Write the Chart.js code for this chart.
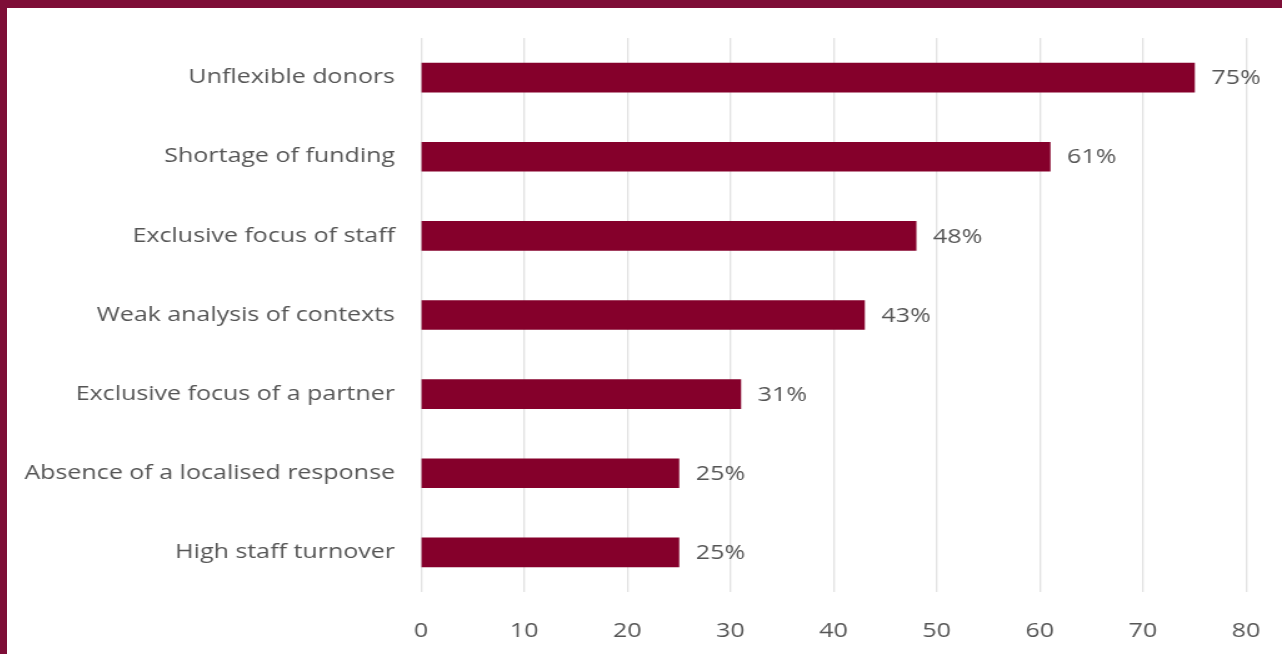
<!DOCTYPE html>
<html>
<head>
<meta charset="utf-8">
<script src="https://cdn.jsdelivr.net/npm/chart.js@4"></script>
<style>
  html, body { margin: 0; padding: 0; background: #fff; }
  #wrap {
    width: 1275px;
    height: 646px;
    border-top: 8px solid #7e0e37;
    border-left: 7px solid #7e0e37;
    background: #fff;
  }
  canvas { display: block; }
</style>
</head>
<body>
<div id="wrap">
  <!-- drawn 1020 wide, shown 1275 wide: the wide, loose lettering of the original -->
  <canvas id="barChart" width="1020" height="646" style="width:1275px;height:646px"></canvas>
</div>
<script>
// Obstacles named by respondents, share in percent
const categories = [
    "Unflexible donors",
    "Shortage of funding",
    "Exclusive focus of staff",
    "Weak analysis of contexts",
    "Exclusive focus of a partner",
    "Absence of a localised response",
    "High staff turnover",
];
const shares = [75, 61, 48, 43, 31, 25, 25];
const xTicks = [0, 10, 20, 30, 40, 50, 60, 70, 80];

const barColor = "#85002b";
const textColor = "#555555";
const fontFamily = "'Open Sans', sans-serif";

// writes "NN%" just right of each bar end
const valueLabels = {
    id: "valueLabels",
    afterDatasetsDraw(chart) {
        const ctx = chart.ctx;
        const meta = chart.getDatasetMeta(0);
        ctx.save();
        ctx.font = "20px " + fontFamily;
        ctx.fillStyle = textColor;
        ctx.textAlign = "left";
        ctx.textBaseline = "middle";
        meta.data.forEach((bar, i) => {
            ctx.fillText(shares[i] + "%", bar.x + 13.6, bar.y + 1);
        });
        ctx.restore();
    },
};

const ctx = document.getElementById("barChart");
const chart = new Chart(ctx, {
    type: "bar",
    data: {
        labels: categories,
        datasets: [
            {
                data: shares,
                backgroundColor: barColor,
                borderWidth: 0,
                barThickness: 29,
            },
        ],
    },
    options: {
        indexAxis: "y",
        responsive: false,
        animation: false,
        layout: {
            padding: { top: 30, right: 28.8, bottom: -16, left: 0 },
        },
        plugins: {
            legend: { display: false },
            tooltip: { enabled: false },
        },
        scales: {
            x: {
                min: 0,
                max: 80,
                afterBuildTicks: (scale) => {
                    scale.ticks = xTicks.map((v) => ({ value: v }));
                },
                afterFit: (scale) => {
                    // the "80" may hang over the right edge, room is left by layout padding
                    scale.paddingLeft = 0;
                    scale.paddingRight = 0;
                },
                grid: { color: "#e2e2e2", lineWidth: 1.3, drawTicks: false },
                border: { display: false },
                ticks: {
                    color: textColor,
                    font: { family: fontFamily, size: 20 },
                    padding: 27,
                    maxRotation: 0,
                },
            },
            y: {
                grid: { display: false, drawTicks: false },
                border: { display: false },
                afterFit: (scale) => {
                    scale.width = 331.2;
                    scale.paddingTop = 0;
                    scale.paddingBottom = 0;
                },
                ticks: {
                    color: textColor,
                    font: { family: fontFamily, size: 20 },
                    padding: 20.8,
                },
            },
        },
    },
    plugins: [valueLabels],
});
</script>
</body>
</html>
